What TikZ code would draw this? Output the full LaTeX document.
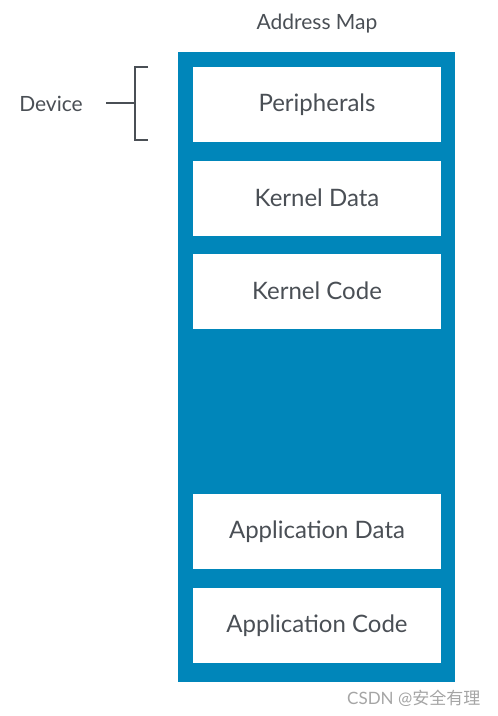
\documentclass[tikz,border=0pt]{standalone}
\usepackage{fontspec}
\setmainfont{Lato}
\newfontfamily\cjkfont{Noto Sans CJK SC}
\definecolor{mapblue}{RGB}{0,134,186}
\definecolor{labelgray}{RGB}{74,79,85}
\tikzset{
	region/.style={fill=white, minimum width=248pt, minimum height=75pt, inner sep=0pt, text=labelgray, font=\fontsize{24}{28}\selectfont},
	sidelabel/.style={text=labelgray, font=\fontsize{21}{25}\selectfont, inner sep=0pt},
	bracket/.style={draw=labelgray, line width=2pt},
}
\begin{document}
\begin{tikzpicture}[x=1pt,y=-1pt]
	\useasboundingbox (0,0) rectangle (498,716);
	
	\coordinate (maptop) at (178,52);
	\coordinate (mapbottom) at (455,682);
	\fill[mapblue] (maptop) rectangle (mapbottom);
	
	\node[sidelabel] (title) at (317,24) {Address Map};
	
	\node[region] (periph) at (317,104.5) {Peripherals};
	\node[region] (kdata) at (317,198) {Kernel Data};
	\node[region] (kcode) at (317,291) {Kernel Code};
	\node[region] (adata) at (317,531.5) {Application Data};
	\node[region] (acode) at (317,625.5) {Application Code};
	
	\node[sidelabel] (device) at (51,104) {Device};
	\coordinate (tick) at (106,103);
	\coordinate (brmid) at (135,103);
	\draw[bracket] (tick) -- (brmid);
	\draw[bracket] (148,67) -- (135,67) -- (135,140) -- (148,140);
	
	\node[anchor=west, inner sep=0pt, text={rgb,255:red,165;green,165;blue,165}, font=\fontsize{17}{20}\selectfont] (mark) at (347,698) {CSDN @\cjkfont 安全有理};
\end{tikzpicture}
\end{document}
